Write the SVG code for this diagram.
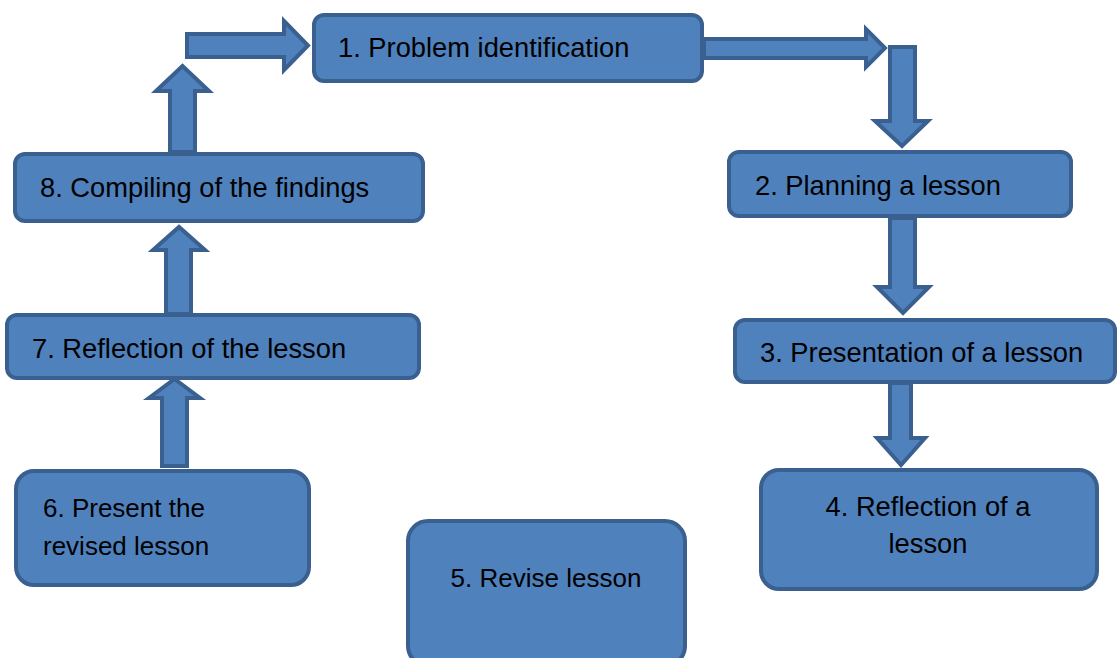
<svg xmlns="http://www.w3.org/2000/svg" width="1117" height="658" viewBox="0 0 1117 658">
<style>
.box{fill:#4F81BD;stroke:#3A6090;stroke-width:4}
.arr{fill:#4F81BD;stroke:#3A6090;stroke-width:4;stroke-linejoin:miter}
.t{font-family:"Liberation Sans",Arial,sans-serif;font-size:27.3px;fill:#000}
.s{font-size:26px}
.c{text-anchor:middle}
</style>
<rect width="1117" height="658" fill="#fff"/>
<g id="connectors">
<polygon class="arr" points="170,152 170,91 156,91 182.5,66 209,91 195,91 195,152"/>
<polygon class="arr" points="187,34 284,34 284,21 308,45.5 284,70 284,57 187,57"/>
<polygon class="arr" points="704,39 866,39 866,29 885,48 866,67 866,58 704,58"/>
<polygon class="arr" points="890,47 915,47 915,121 928,121 902,146 875,121 890,121"/>
<polygon class="arr" points="890,218 915,218 915,287 929,287 903,313 877,287 890,287"/>
<polygon class="arr" points="890,383 911,383 911,438 925,438 901,465 877,438 890,438"/>
<polygon class="arr" points="162,466 162,398 149,398 174.5,379 200,398 187,398 187,466"/>
<polygon class="arr" points="166,314 166,250 153,250 179,227 205,250 191,250 191,314"/>
</g>
<g id="n1"><rect class="box" x="314" y="15" width="388" height="66" rx="10"/><text class="t" x="338" y="57">1. Problem identification</text></g>
<g id="n2"><rect class="box" x="729" y="152" width="342" height="64" rx="10"/><text class="t" x="755" y="195">2. Planning a lesson</text></g>
<g id="n3"><rect class="box" x="735" y="320" width="380" height="62" rx="10"/><text class="t" x="760" y="362">3. Presentation of a lesson</text></g>
<g id="n4"><rect class="box" x="761" y="470" width="336" height="119" rx="18"/><text class="t c" x="928" y="516">4. Reflection of a</text><text class="t c" x="928" y="553">lesson</text></g>
<g id="n5"><rect class="box" x="408" y="521" width="277" height="145" rx="20"/><text class="t s c" x="546" y="587">5. Revise lesson</text></g>
<g id="n6"><rect class="box" x="16" y="471" width="293" height="114" rx="18"/><text class="t s" x="43" y="517">6. Present the</text><text class="t s" x="43" y="555">revised lesson</text></g>
<g id="n7"><rect class="box" x="7" y="315" width="412" height="63" rx="10"/><text class="t" x="32" y="358">7. Reflection of the lesson</text></g>
<g id="n8"><rect class="box" x="15" y="154" width="408" height="67" rx="10"/><text class="t" x="40" y="197">8. Compiling of the findings</text></g>
</svg>
